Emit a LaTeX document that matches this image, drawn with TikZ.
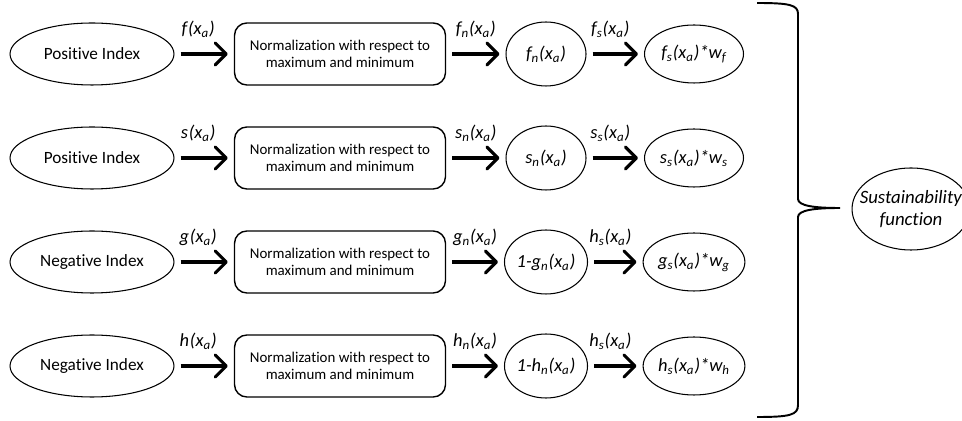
\documentclass[tikz,border=0pt]{standalone}
\usepackage{fontspec}
\setmainfont{Carlito}[Ligatures=NoCommon]
\usepackage{tikz}
\usetikzlibrary{arrows.meta,shapes.geometric}
\newcommand{\fxa}[2]{\textit{#1\textsubscript{#2}(x\textsubscript{a})}}
\tikzset{
  oval/.style={ellipse,draw,line width=0.6pt,inner sep=0pt},
  normbox/.style={draw,rounded corners=7pt,line width=0.8pt,minimum width=4.22cm,
    minimum height=1.24cm,align=center,font=\fontsize{8.5}{9.8}\selectfont},
  flow/.style={line width=1.8pt,shorten <=0.12cm,shorten >=0.12cm,
    -{Straight Barb[round,length=0.22cm,width=0.44cm]}},
  lbl/.style={above=0.3cm,inner sep=0pt,font=\fontsize{10.5}{12}\selectfont},
}
\begin{document}
\begin{tikzpicture}[x=0.02cm,y=-0.02cm]
  \useasboundingbox (0,0) rectangle (962,421);
  \foreach \r/\y/\kind/\f/\pre/\s/\w in {
    1/54/Positive/f/{}/f/f,
    2/158/Positive/s/{}/s/s,
    3/262/Negative/g/{1-}/h/g,
    4/366/Negative/h/{1-}/h/h} {
    \node[oval,minimum width=3.28cm,minimum height=1.24cm,
      font=\fontsize{9.8}{12}\selectfont] (idx\r) at (92,\y) {\kind{} Index};
    \node[normbox] (norm\r) at (340,\y) {Normalization with respect to\\maximum and minimum};
    \node[oval,minimum width=1.6cm,minimum height=1.28cm,
      font=\fontsize{10.5}{12}\selectfont] (nval\r) at (546,\y) {\textit{\pre}\fxa{\f}{n}};
    \node[oval,minimum width=1.98cm,minimum height=1.16cm,
      font=\fontsize{10.5}{12}\selectfont] (wval\r) at (694,\y)
      {\fxa{\w}{s}\textit{*w\textsubscript{\w}}};
    \draw[flow] (idx\r) -- node[lbl,xshift=-0.12cm] {\fxa{\f}{}} (norm\r);
    \draw[flow] (norm\r) -- node[lbl] {\fxa{\f}{n}} (nval\r);
    \draw[flow] (nval\r) -- node[lbl,xshift=-0.1cm] {\fxa{\s}{s}} (wval\r);
  }
  % brace
  \coordinate (tip) at (840,208);
  \draw[line width=1.1pt] (757,3) .. controls (790,3) and (798,5) .. (798,14)
    -- (798,199) .. controls (798,206) and (815,208) .. (tip)
    .. controls (815,208) and (798,210) .. (798,217)
    -- (798,405) .. controls (798,415) and (790,417) .. (757,417);
  \node[oval,inner xsep=-0.5cm,minimum width=2.36cm,minimum height=1.64cm,align=center,
    font=\fontsize{10.7}{13}\selectfont] (sust) at (911,209)
    {\textit{Sustainability}\\\textit{function}};
\end{tikzpicture}
\end{document}
